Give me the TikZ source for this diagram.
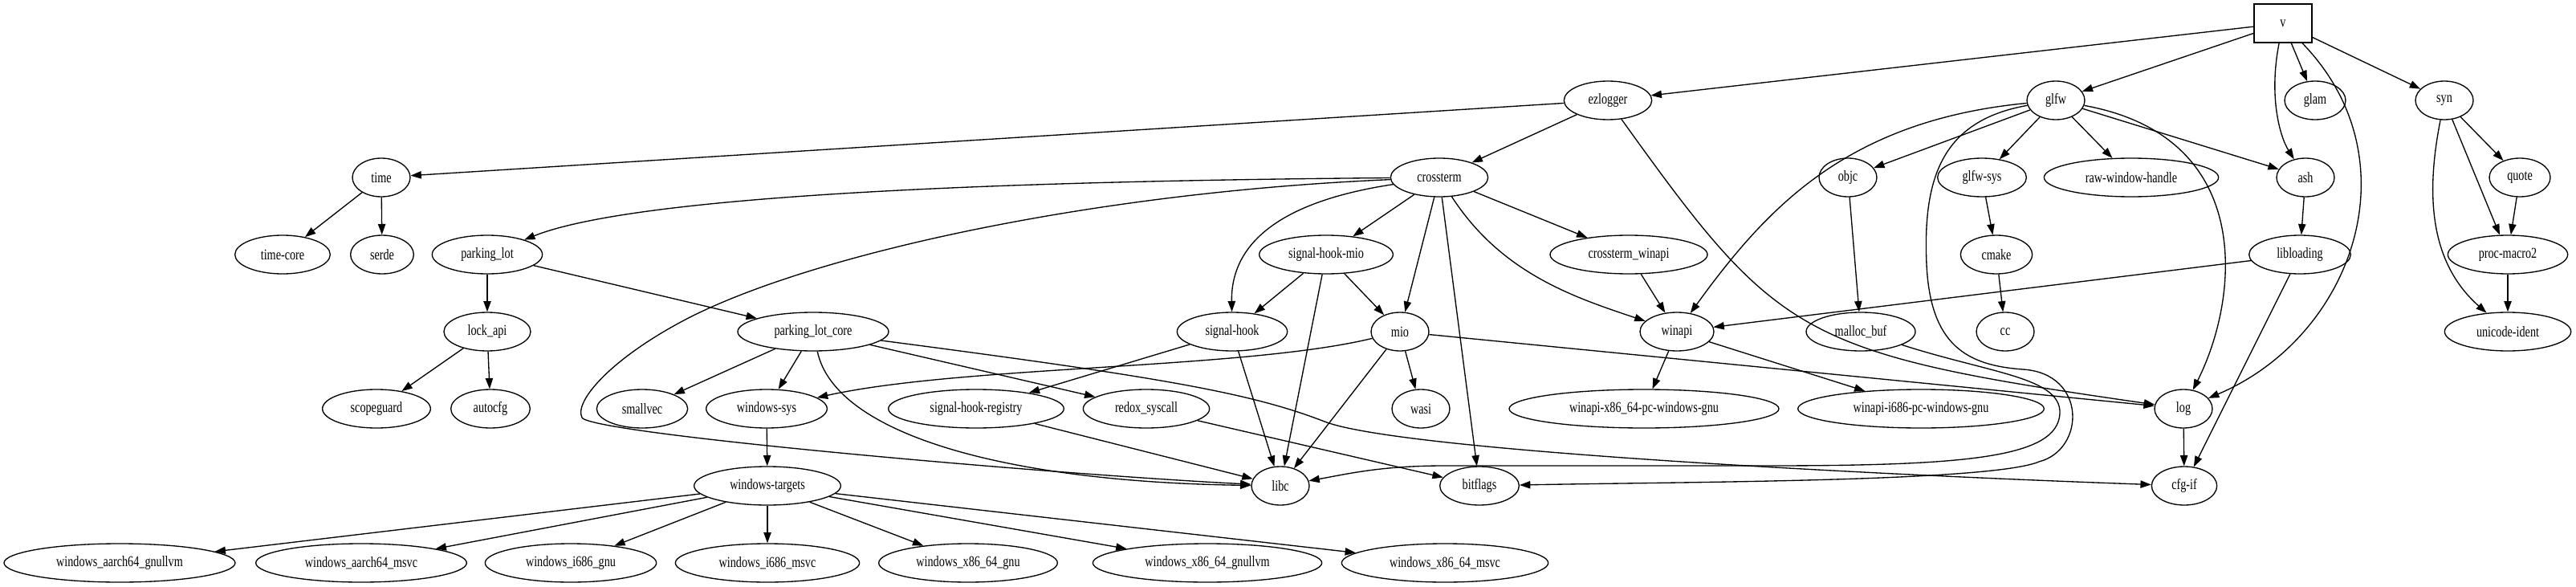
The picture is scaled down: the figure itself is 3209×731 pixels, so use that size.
\documentclass[tikz,border=0pt]{standalone}
\usepackage{fontspec}
\setmainfont[FakeStretch=0.76]{Liberation Serif}
\usetikzlibrary{shapes.geometric,arrows.meta}
\begin{document}
\begin{tikzpicture}[x=0.75pt,y=-0.75pt,
  nd/.style={ellipse,draw,line width=1pt,inner sep=0pt,minimum height=36pt,minimum width=54pt,font=\fontsize{14}{16}\selectfont},
  bx/.style={rectangle,draw,line width=1pt,inner sep=0pt,minimum width=54pt,minimum height=36pt,font=\fontsize{14}{16}\selectfont},
  ed/.style={line width=1pt,-{Triangle[length=10pt,width=7pt]}}]
\useasboundingbox (0,0) rectangle (3209,731);
% row A
\node[bx] (v) at (2844,29) {v};
% row B
\node[nd,minimum width=82pt] (ezlogger) at (2003,125) {ezlogger};
\node[nd] (glfw) at (2561,125) {glfw};
\node[nd,minimum width=57pt] (glam) at (2884,125) {glam};
\node[nd] (syn) at (3045,125) {syn};
% row C
\node[nd] (time) at (475,221) {time};
\node[nd,minimum width=91pt] (crossterm) at (1793,221) {crossterm};
\node[nd] (objc) at (2302,221) {objc};
\node[nd,minimum width=83pt] (glfwsys) at (2469,221) {glfw-sys};
\node[nd,minimum width=163pt] (rwh) at (2655,221) {raw-window-handle};
\node[nd] (ash) at (2872,221) {ash};
\node[nd,minimum width=57pt] (quote) at (3139,221) {quote};
% row D
\node[nd,minimum width=89pt] (timecore) at (352,317) {time-core};
\node[nd,minimum width=59pt] (serde) at (476,317) {serde};
\node[nd,minimum width=103pt] (parkinglot) at (607,317) {parking\_lot};
\node[nd,minimum width=125pt] (shm) at (1652,317) {signal-hook-mio};
\node[nd,minimum width=147pt] (ctwinapi) at (2029,317) {crossterm\_winapi};
\node[nd,minimum width=67pt] (cmake) at (2487,317) {cmake};
\node[nd,minimum width=95pt] (libloading) at (2865,317) {libloading};
\node[nd,minimum width=112pt] (procmacro) at (3124,317) {proc-macro2};
% row E
\node[nd,minimum width=81pt] (lockapi) at (607,413) {lock\_api};
\node[nd,minimum width=141pt] (plc) at (1013,413) {parking\_lot\_core};
\node[nd,minimum width=103pt] (signalhook) at (1535,413) {signal-hook};
\node[nd] (mio) at (1744,413) {mio};
\node[nd,minimum width=69pt] (winapi) at (2089,413) {winapi};
\node[nd,minimum width=102pt] (mallocbuf) at (2318,413) {malloc\_buf};
\node[nd] (cc) at (2498,413) {cc};
\node[nd,minimum width=118pt] (unicode) at (3124,413) {unicode-ident};
% row F
\node[nd,minimum width=101pt] (scopeguard) at (469,509) {scopeguard};
\node[nd,minimum width=74pt] (autocfg) at (611,509) {autocfg};
\node[nd,minimum width=85pt] (smallvec) at (800,509) {smallvec};
\node[nd,minimum width=113pt] (windowssys) at (955,509) {windows-sys};
\node[nd,minimum width=164pt] (shr) at (1216,509) {signal-hook-registry};
\node[nd,minimum width=118pt] (redox) at (1428,509) {redox\_syscall};
\node[nd] (wasi) at (1770,509) {wasi};
\node[nd,minimum width=252pt] (wx86) at (2048,509) {winapi-x86\_64-pc-windows-gnu};
\node[nd,minimum width=230pt] (wi686) at (2393,509) {winapi-i686-pc-windows-gnu};
\node[nd] (log) at (2720,509) {log};
% row G
\node[nd,minimum width=137pt] (wtargets) at (956,605) {windows-targets};
\node[nd] (libc) at (1595,605) {libc};
\node[nd,minimum width=74pt] (bitflags) at (1843,605) {bitflags};
\node[nd,minimum width=61pt] (cfgif) at (2721,605) {cfg-if};
% row H
\node[nd,minimum width=216pt] (ta) at (149,701) {windows\_aarch64\_gnullvm};
\node[nd,minimum width=197pt] (tb) at (450,701) {windows\_aarch64\_msvc};
\node[nd,minimum width=160pt] (tc) at (711,701) {windows\_i686\_gnu};
\node[nd,minimum width=172pt] (td) at (956,701) {windows\_i686\_msvc};
\node[nd,minimum width=167pt] (te) at (1206,701) {windows\_x86\_64\_gnu};
\node[nd,minimum width=214pt] (tf) at (1504,701) {windows\_x86\_64\_gnullvm};
\node[nd,minimum width=193pt] (tg) at (1800,701) {windows\_x86\_64\_msvc};

% edges from v
\draw[ed] (v) -- (ezlogger);
\draw[ed] (v) -- (glfw);
\draw[ed] (v) -- (glam);
\draw[ed] (v) -- (syn);
\draw[ed] (v) .. controls (2826,120) and (2840,170) .. (ash);
\draw[ed] (v) .. controls (3010,200) and (2930,420) .. (log);
% ezlogger
\draw[ed] (ezlogger) -- (time);
\draw[ed] (ezlogger) -- (crossterm);
\draw[ed] (ezlogger) .. controls (2215,420) and (2240,440) .. (log);
% glfw
\draw[ed] (glfw) -- (objc);
\draw[ed] (glfw) -- (glfwsys);
\draw[ed] (glfw) -- (rwh);
\draw[ed] (glfw) -- (ash);
\draw[ed] (glfw) .. controls (2300,150) and (2200,260) .. (winapi);
\draw[ed] (glfw) .. controls (2810,170) and (2790,370) .. (log);
\draw[ed] (glfw) .. controls (2420,150) and (2395,220) .. (2400,330)
   .. controls (2405,430) and (2450,455) .. (2520,460)
   .. controls (2600,465) and (2598,560) .. (2540,575)
   .. controls (2480,600) and (2100,600) .. (bitflags);
% syn
\draw[ed] (syn) -- (quote);
\draw[ed] (syn) -- (procmacro);
\draw[ed] (syn) .. controls (3020,250) and (3030,330) .. (unicode);
% time
\draw[ed] (time) -- (timecore);
\draw[ed] (time) -- (serde);
% crossterm
\draw[ed] (crossterm) .. controls (1300,225) and (800,240) .. (parkinglot);
\draw[ed] (crossterm) .. controls (1350,240) and (1000,320) .. (850,400)
   .. controls (760,448) and (715,500) .. (725,520)
   .. controls (735,540) and (1300,590) .. (libc);
\draw[ed] (crossterm) .. controls (1600,250) and (1533,300) .. (signalhook);
\draw[ed] (crossterm) -- (shm);
\draw[ed] (crossterm) -- (mio);
\draw[ed] (crossterm) -- (bitflags);
\draw[ed] (crossterm) .. controls (1870,340) and (1960,370) .. (winapi);
\draw[ed] (crossterm) -- (ctwinapi);
% others row C
\draw[ed] (objc) -- (mallocbuf);
\draw[ed] (glfwsys) -- (cmake);
\draw[ed] (ash) -- (libloading);
\draw[ed] (quote) -- (procmacro);
% row D
\draw[ed] (parkinglot) -- (lockapi);
\draw[ed] (parkinglot) -- (plc);
\draw[ed] (shm) -- (signalhook);
\draw[ed] (shm) -- (libc);
\draw[ed] (shm) -- (mio);
\draw[ed] (ctwinapi) -- (winapi);
\draw[ed] (cmake) -- (cc);
\draw[ed] (libloading) -- (winapi);
\draw[ed] (libloading) -- (cfgif);
\draw[ed] (procmacro) -- (unicode);
% row E
\draw[ed] (lockapi) -- (scopeguard);
\draw[ed] (lockapi) -- (autocfg);
\draw[ed] (plc) -- (smallvec);
\draw[ed] (plc) -- (windowssys);
\draw[ed] (plc) -- (redox);
\draw[ed] (plc) .. controls (1040,540) and (1250,600) .. (libc);
\draw[ed] (plc) .. controls (1450,470) and (1560,490) .. (1650,525)
   .. controls (1740,560) and (2300,590) .. (cfgif);
\draw[ed] (signalhook) -- (shr);
\draw[ed] (signalhook) -- (libc);
\draw[ed] (mio) .. controls (1550,460) and (1200,455) .. (windowssys);
\draw[ed] (mio) -- (libc);
\draw[ed] (mio) -- (wasi);
\draw[ed] (mio) -- (log);
\draw[ed] (winapi) -- (wx86);
\draw[ed] (winapi) -- (wi686);
\draw[ed] (mallocbuf) .. controls (2480,465) and (2568,470) .. (2566,515)
   .. controls (2563,570) and (2450,580) .. (2200,580)
   -- (1800,580) .. controls (1720,580) and (1680,590) .. (libc);
% row F
\draw[ed] (windowssys) -- (wtargets);
\draw[ed] (shr) -- (libc);
\draw[ed] (redox) -- (bitflags);
\draw[ed] (log) -- (cfgif);
% row G
\draw[ed] (wtargets) -- (ta);
\draw[ed] (wtargets) -- (tb);
\draw[ed] (wtargets) -- (tc);
\draw[ed] (wtargets) -- (td);
\draw[ed] (wtargets) -- (te);
\draw[ed] (wtargets) -- (tf);
\draw[ed] (wtargets) -- (tg);
\end{tikzpicture}
\end{document}
